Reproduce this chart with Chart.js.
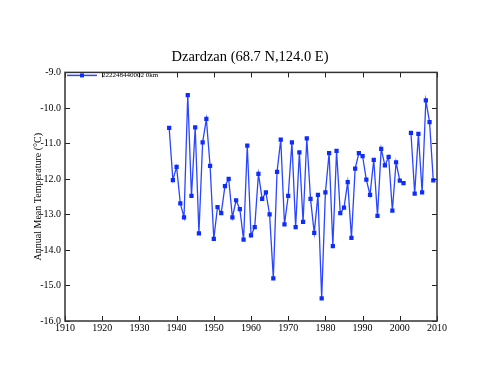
<!DOCTYPE html>
<html>
<head>
<meta charset="utf-8">
<script src="https://cdn.jsdelivr.net/npm/chart.js@4.4.0/dist/chart.umd.min.js"></script>
<style>
  html, body { margin:0; padding:0; background:#fff; }
</style>
</head>
<body>
<canvas id="chart" width="500" height="386"></canvas>
<script>
// station record
const YEARS = [1938,1939,1940,1941,1942,1943,1944,1945,1946,1947,1948,1949,
               1950,1951,1952,1953,1954,1955,1956,1957,1958,1959,
               1960,1961,1962,1963,1964,1965,1966,1967,1968,1969,
               1970,1971,1972,1973,1974,1975,1976,1977,1978,1979,
               1980,1981,1982,1983,1984,1985,1986,1987,1988,1989,
               1990,1991,1992,1993,1994,1995,1996,1997,1998,1999,
               2000,2001,2002,2003,2004,2005,2006,2007,2008,2009];
const TEMPS = [-10.56,-12.03,-11.66,-12.69,-13.08,-9.64,-12.48,-10.55,-13.53,-10.97,-10.31,-11.63,
               -13.69,-12.79,-12.96,-12.20,-12.00,-13.08,-12.60,-12.85,-13.71,-11.06,
               -13.59,-13.36,-11.86,-12.56,-12.38,-13.00,-14.80,-11.80,-10.89,-13.28,
               -12.48,-10.97,-13.36,-11.25,-13.21,-10.86,-12.56,-13.52,-12.45,-15.36,
               -12.38,-11.27,-13.89,-11.21,-12.96,-12.81,-12.09,-13.66,-11.71,-11.27,
               -11.36,-12.02,-12.45,-11.46,-13.04,-11.15,-11.62,-11.38,-12.89,-11.53,
               -12.05,-12.12,null,-10.70,-12.41,-10.73,-12.38,-9.79,-10.40,-12.04];
const X_TICKS = [1910,1920,1930,1940,1950,1960,1970,1980,1990,2000,2010];
const Y_TICKS = [-9,-10,-11,-12,-13,-14,-15,-16];
const SERIES_LABEL = '222248440002 0km';
const TITLE = 'Dzardzan (68.7 N,124.0 E)';
const Y_TITLE = 'Annual Mean Temperature (°C)';

const LINE_COL = '#2a46ff';
const MARK_COL = '#0f2cff';
const SERIF = "'Liberation Serif', 'Times New Roman', serif";

// box frame with inward ticks on all four sides, plus the small legend
const framePlugin = {
    id: 'frame',
    afterDraw(chart) {
        const { ctx, chartArea: a, scales } = chart;
        const L = 5;
        ctx.save();
        ctx.strokeStyle = '#222';
        ctx.lineWidth = 1;
        scales.x.ticks.forEach(t => {
            const px = Math.round(scales.x.getPixelForValue(t.value)) + 0.5;
            ctx.beginPath();
            ctx.moveTo(px, a.bottom); ctx.lineTo(px, a.bottom - L);
            ctx.moveTo(px, a.top); ctx.lineTo(px, a.top + L);
            ctx.stroke();
        });
        scales.y.ticks.forEach(t => {
            const py = Math.round(scales.y.getPixelForValue(t.value)) + 0.5;
            ctx.beginPath();
            ctx.moveTo(a.left, py); ctx.lineTo(a.left + L, py);
            ctx.moveTo(a.right, py); ctx.lineTo(a.right - L, py);
            ctx.stroke();
        });
        ctx.lineWidth = 1.5;
        ctx.strokeStyle = '#333';
        ctx.strokeRect(a.left, a.top, a.right - a.left, a.bottom - a.top);

        // legend, top-left inside the box
        const lx = a.left + 2, ly = a.top + 3;
        ctx.strokeStyle = LINE_COL;
        ctx.lineWidth = 1.5;
        ctx.beginPath(); ctx.moveTo(lx, ly); ctx.lineTo(lx + 30, ly); ctx.stroke();
        ctx.fillStyle = MARK_COL;
        ctx.fillRect(lx + 13, ly - 2, 4, 4);
        ctx.fillStyle = '#000';
        ctx.font = '7px ' + SERIF;
        ctx.textBaseline = 'middle';
        ctx.fillText(SERIES_LABEL, lx + 35, ly);
        ctx.restore();
    }
};

new Chart(document.getElementById('chart'), {
    type: 'line',
    data: {
        datasets: [{
            label: SERIES_LABEL,
            data: YEARS.map((y, i) => ({ x: y, y: TEMPS[i] })),
            borderColor: LINE_COL,
            borderWidth: 1.3,
            pointStyle: 'rect',
            pointRadius: 3,
            pointBackgroundColor: MARK_COL,
            pointBorderColor: MARK_COL,
            pointBorderWidth: 0,
            spanGaps: false,
            tension: 0
        }]
    },
    plugins: [framePlugin],
    options: {
        responsive: false,
        animation: false,
        layout: { padding: 0 },
        plugins: {
            tooltip: { enabled: false },
            legend: { display: false },
            title: {
                display: true,
                text: TITLE,
                color: '#000',
                font: { family: SERIF, size: 14.5, weight: 'normal' },
                padding: { top: 48, bottom: 7 }
            }
        },
        scales: {
            x: {
                type: 'linear',
                min: 1910, max: 2010,
                afterBuildTicks: s => { s.ticks = X_TICKS.map(v => ({ value: v })); },
                afterFit: s => { s.height = 65; },
                grid: { display: false, drawTicks: false },
                border: { display: false },
                ticks: {
                    color: '#000', padding: 1, maxRotation: 0, autoSkip: false,
                    font: { family: SERIF, size: 10 },
                    callback: v => String(v)
                }
            },
            y: {
                min: -16, max: -9,
                afterBuildTicks: s => { s.ticks = Y_TICKS.map(v => ({ value: v })); },
                afterFit: s => { s.width = 65; },
                grid: { display: false, drawTicks: false },
                border: { display: false },
                ticks: {
                    color: '#000', padding: 4, autoSkip: false,
                    font: { family: SERIF, size: 10 },
                    callback: v => Number(v).toFixed(1)
                },
                title: {
                    display: true,
                    text: Y_TITLE,
                    color: '#000',
                    font: { family: SERIF, size: 10 },
                    padding: { top: 32, bottom: 0 }
                }
            },
            // empty right-hand margin so the title centres on the box
            yr: {
                position: 'right',
                min: -16, max: -9,
                afterFit: s => { s.width = 63; },
                grid: { display: false, drawTicks: false },
                border: { display: false },
                ticks: { display: false }
            }
        }
    }
});
</script>
</body>
</html>
